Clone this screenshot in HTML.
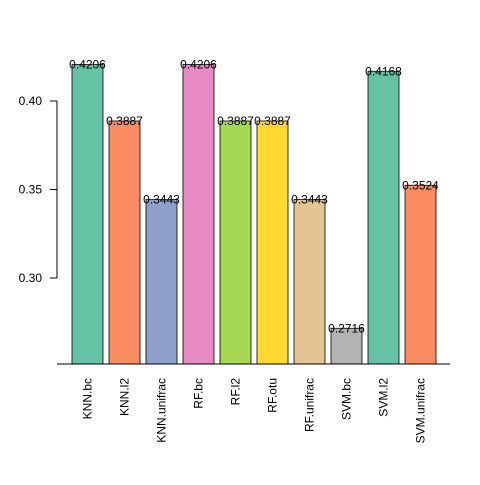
<!DOCTYPE html>
<html><head><meta charset="utf-8"><style>
html,body{margin:0;padding:0;background:#fff}
svg text{font-family:"Liberation Sans",sans-serif;font-size:12px;fill:#000}
</style></head><body>
<svg id="chart" width="480" height="480">
<g id="bars"></g>
<line x1="57" y1="364" x2="450" y2="364" stroke="#000"/>
<g id="yaxis"></g>
</svg>
<script>
const categories=["KNN.bc","KNN.l2","KNN.unifrac","RF.bc","RF.l2","RF.otu","RF.unifrac","SVM.bc","SVM.l2","SVM.unifrac"];
const values=[0.4206,0.3887,0.3443,0.4206,0.3887,0.3887,0.3443,0.2716,0.4168,0.3524];
const labels=["0.4206","0.3887","0.3443","0.4206","0.3887","0.3887","0.3443","0.2716","0.4168","0.3524"];
const colors=["#66C2A5","#FC8D62","#8DA0CB","#E78AC3","#A6D854","#FFD92F","#E5C494","#B3B3B3","#66C2A5","#FC8D62"];
const yTicks=[0.30,0.35,0.40];
const yTickLabels=["0.30","0.35","0.40"];
const NS="http://www.w3.org/2000/svg";
const yScale=v=>278-(v-0.30)*1770;
const xScale=i=>72+i*37;
const bw=31, base=364;
const gb=document.getElementById('bars');
categories.forEach((c,i)=>{
  const y=yScale(values[i]);
  const r=document.createElementNS(NS,'rect');
  r.setAttribute('x',xScale(i));r.setAttribute('y',y);
  r.setAttribute('width',bw);r.setAttribute('height',base-y);
  r.setAttribute('fill',colors[i]);r.setAttribute('stroke','#000');r.setAttribute('stroke-width','0.8');
  
  
  gb.appendChild(r);
  const t=document.createElementNS(NS,'text');
  t.setAttribute('x',xScale(i)+bw/2);t.setAttribute('y',y+4);t.setAttribute('text-anchor','middle');
  t.textContent=labels[i];
  
  
  gb.appendChild(t);
  const xl=document.createElementNS(NS,'text');
  const cx=xScale(i)+bw/2+4, cy=378;
  xl.setAttribute('x',cx);xl.setAttribute('y',cy);xl.setAttribute('text-anchor','end');
  xl.setAttribute('transform','rotate(-90 '+cx+' '+cy+')');
  xl.textContent=c;
  
  
  gb.appendChild(xl);
});
const ga=document.getElementById('yaxis');
const al=document.createElementNS(NS,'line');
al.setAttribute('x1',57);al.setAttribute('x2',57);al.setAttribute('y1',yScale(yTicks[yTicks.length-1]));al.setAttribute('y2',yScale(yTicks[0]));al.setAttribute('stroke','#000');


ga.appendChild(al);
yTicks.forEach((v,i)=>{
  const y=yScale(v);
  const l=document.createElementNS(NS,'line');
  l.setAttribute('x1',50);l.setAttribute('x2',57);l.setAttribute('y1',y);l.setAttribute('y2',y);l.setAttribute('stroke','#000');
  
  
  ga.appendChild(l);
  const t=document.createElementNS(NS,'text');
  t.setAttribute('x',42);t.setAttribute('y',y+4);t.setAttribute('text-anchor','end');
  t.textContent=yTickLabels[i];
  
  
  ga.appendChild(t);
});
</script>
</body></html>
